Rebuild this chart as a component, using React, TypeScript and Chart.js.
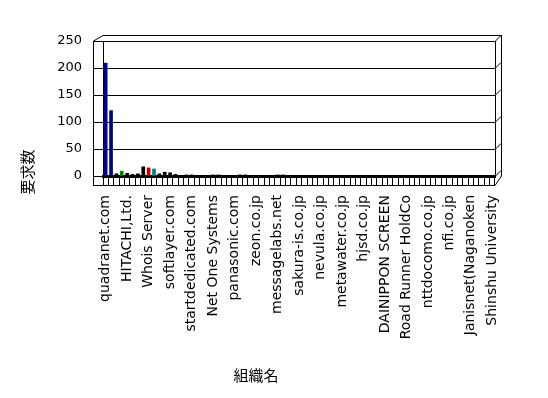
import React, { useEffect, useRef } from "react";
import { Chart, registerables } from "chart.js";

Chart.register(...registerables);

// Organization names shown on the axis (every 4th category carries a name)
const shownNames: string[] = [
  "quadranet.com",
  "HITACHI,Ltd.",
  "Whois Server",
  "softlayer.com",
  "startdedicated.com",
  "Net One Systems",
  "panasonic.com",
  "zeon.co.jp",
  "messagelabs.net",
  "sakura-is.co.jp",
  "nevula.co.jp",
  "metawater.co.jp",
  "hjsd.co.jp",
  "DAINIPPON SCREEN",
  "Road Runner HoldCo",
  "nttdocomo.co.jp",
  "nfi.co.jp",
  "Janisnet(Naganoken",
  "Shinshu University",
];

// Request counts per organization (73 categories)
const requestCounts: number[] = [
  209, 121, 4, 9, 5, 3, 4, 17, 15, 13,
  4, 7, 6, 3, 0, 2, 2, 0, 0, 0,
  2, 2, 0, 0, 0, 2, 2, 0, 0, 0,
  0, 0, 2, 2, 0, 0, 0, 0, 0, 0,
  0, 0, 0, 0, 0, 0, 0, 0, 0, 0,
  0, 0, 0, 0, 0, 0, 0, 0, 0, 0,
  0, 0, 0, 0, 0, 0, 0, 0, 0, 0,
  0, 0, 0,
];

const yTicks: number[] = [0, 50, 100, 150, 200, 250];

const xTitle = "組織名";
const yTitle = "要求数";

const FONT = '"Noto Sans CJK JP", "Noto Sans", sans-serif';
const LABEL_FONT = '"DejaVu Sans", "Noto Sans", sans-serif';

export default function App() {
  const canvasRef = useRef<HTMLCanvasElement | null>(null);

  useEffect(() => {
    const canvas = canvasRef.current;
    if (!canvas) return;

    const labels: string[] = requestCounts.map((_, i) =>
      i % 4 === 0 && shownNames[i / 4] !== undefined ? shownNames[i / 4] : ""
    );

    const highlight: Record<number, string> = {
      0: "#000080",
      1: "#000080",
      3: "#008000",
      8: "#C00000",
      9: "#008080",
    };
    const colors = requestCounts.map((_, i) => highlight[i] || "#000000");

    const framePlugin = {
      id: "frame3d",
      afterDraw(chart: any) {
        const ctx = chart.ctx as CanvasRenderingContext2D;
        const { left, right, top, bottom } = chart.chartArea;
        const yScale = chart.scales.y;
        const d = 6;
        const wallX = left - 10;
        const floorY = bottom + 9;
        ctx.save();
        ctx.strokeStyle = "#000";
        ctx.lineWidth = 1;
        const line = (x1: number, y1: number, x2: number, y2: number) => {
          ctx.beginPath();
          ctx.moveTo(x1, y1);
          ctx.lineTo(x2, y2);
          ctx.stroke();
        };
        line(wallX + 0.5, top, wallX + 0.5, floorY);
        line(wallX + 0.5, top, left, top - d + 0.5);
        line(left, top - d + 0.5, right + d, top - d + 0.5);
        line(right + d + 0.5, top - d, right + d + 0.5, bottom);
        line(right + d + 0.5, bottom, right, floorY + 0.5);
        line(wallX, floorY + 0.5, right, floorY + 0.5);
        line(right + 0.5, top, right + 0.5, bottom);
        yTicks.forEach((v) => {
          const y = Math.round(yScale.getPixelForValue(v)) + 0.5;
          line(right, y, right + d, y - d);
        });
        ctx.fillStyle = "#000";
        ctx.font = `15px ${FONT}`;
        ctx.textAlign = "center";
        ctx.textBaseline = "middle";
        // x axis title
        ctx.fillText(xTitle, 256, 375);
        // y axis title
        ctx.translate(27, 172);
        ctx.rotate(-Math.PI / 2);
        ctx.fillText(yTitle, 0, 0);
        ctx.restore();
      },
    };

    const chart = new Chart(canvas, {
      type: "bar",
      data: {
        labels,
        datasets: [
          {
            data: requestCounts,
            backgroundColor: colors,
            borderWidth: 0,
            barThickness: 3,
          },
        ],
      },
      options: {
        animation: false,
        responsive: false,
        maintainAspectRatio: false,
        layout: { padding: { top: 41, right: 53, left: 0, bottom: 0 } },
        plugins: {
          legend: { display: false },
          tooltip: { enabled: false },
        },
        scales: {
          x: {
            offset: true,
            grid: {
              offset: true,
              drawOnChartArea: false,
              drawTicks: true,
              tickLength: 9,
              color: "#000",
              lineWidth: 1,
            },
            border: { display: true, color: "#000", width: 3 },
            ticks: {
              autoSkip: false,
              minRotation: 90,
              maxRotation: 90,
              padding: 10,
              color: "#000",
              font: { family: LABEL_FONT, size: 14 },
            },
            afterFit(scale: any) {
              scale.height = 222;
            },
          },
          y: {
            min: 0,
            max: 250,
            afterBuildTicks(scale: any) {
              scale.ticks = yTicks.map((v) => ({ value: v }));
            },
            grid: {
              color: "#000",
              lineWidth: 1,
              drawTicks: true,
              tickLength: 10,
            },
            border: { display: true, color: "#000", width: 1 },
            ticks: {
              padding: 11,
              color: "#000",
              font: { family: LABEL_FONT, size: 13 },
            },
            afterFit(scale: any) {
              scale.width = 103;
            },
          },
        },
      },
      plugins: [framePlugin],
    });

    return () => {
      chart.destroy();
    };
  }, []);

  return (
    <div style={{ position: "absolute", left: 0, top: 0, width: 548, height: 398, background: "#fff" }}>
      <canvas ref={canvasRef} width={548} height={398} style={{ display: "block" }} />
    </div>
  );
}
